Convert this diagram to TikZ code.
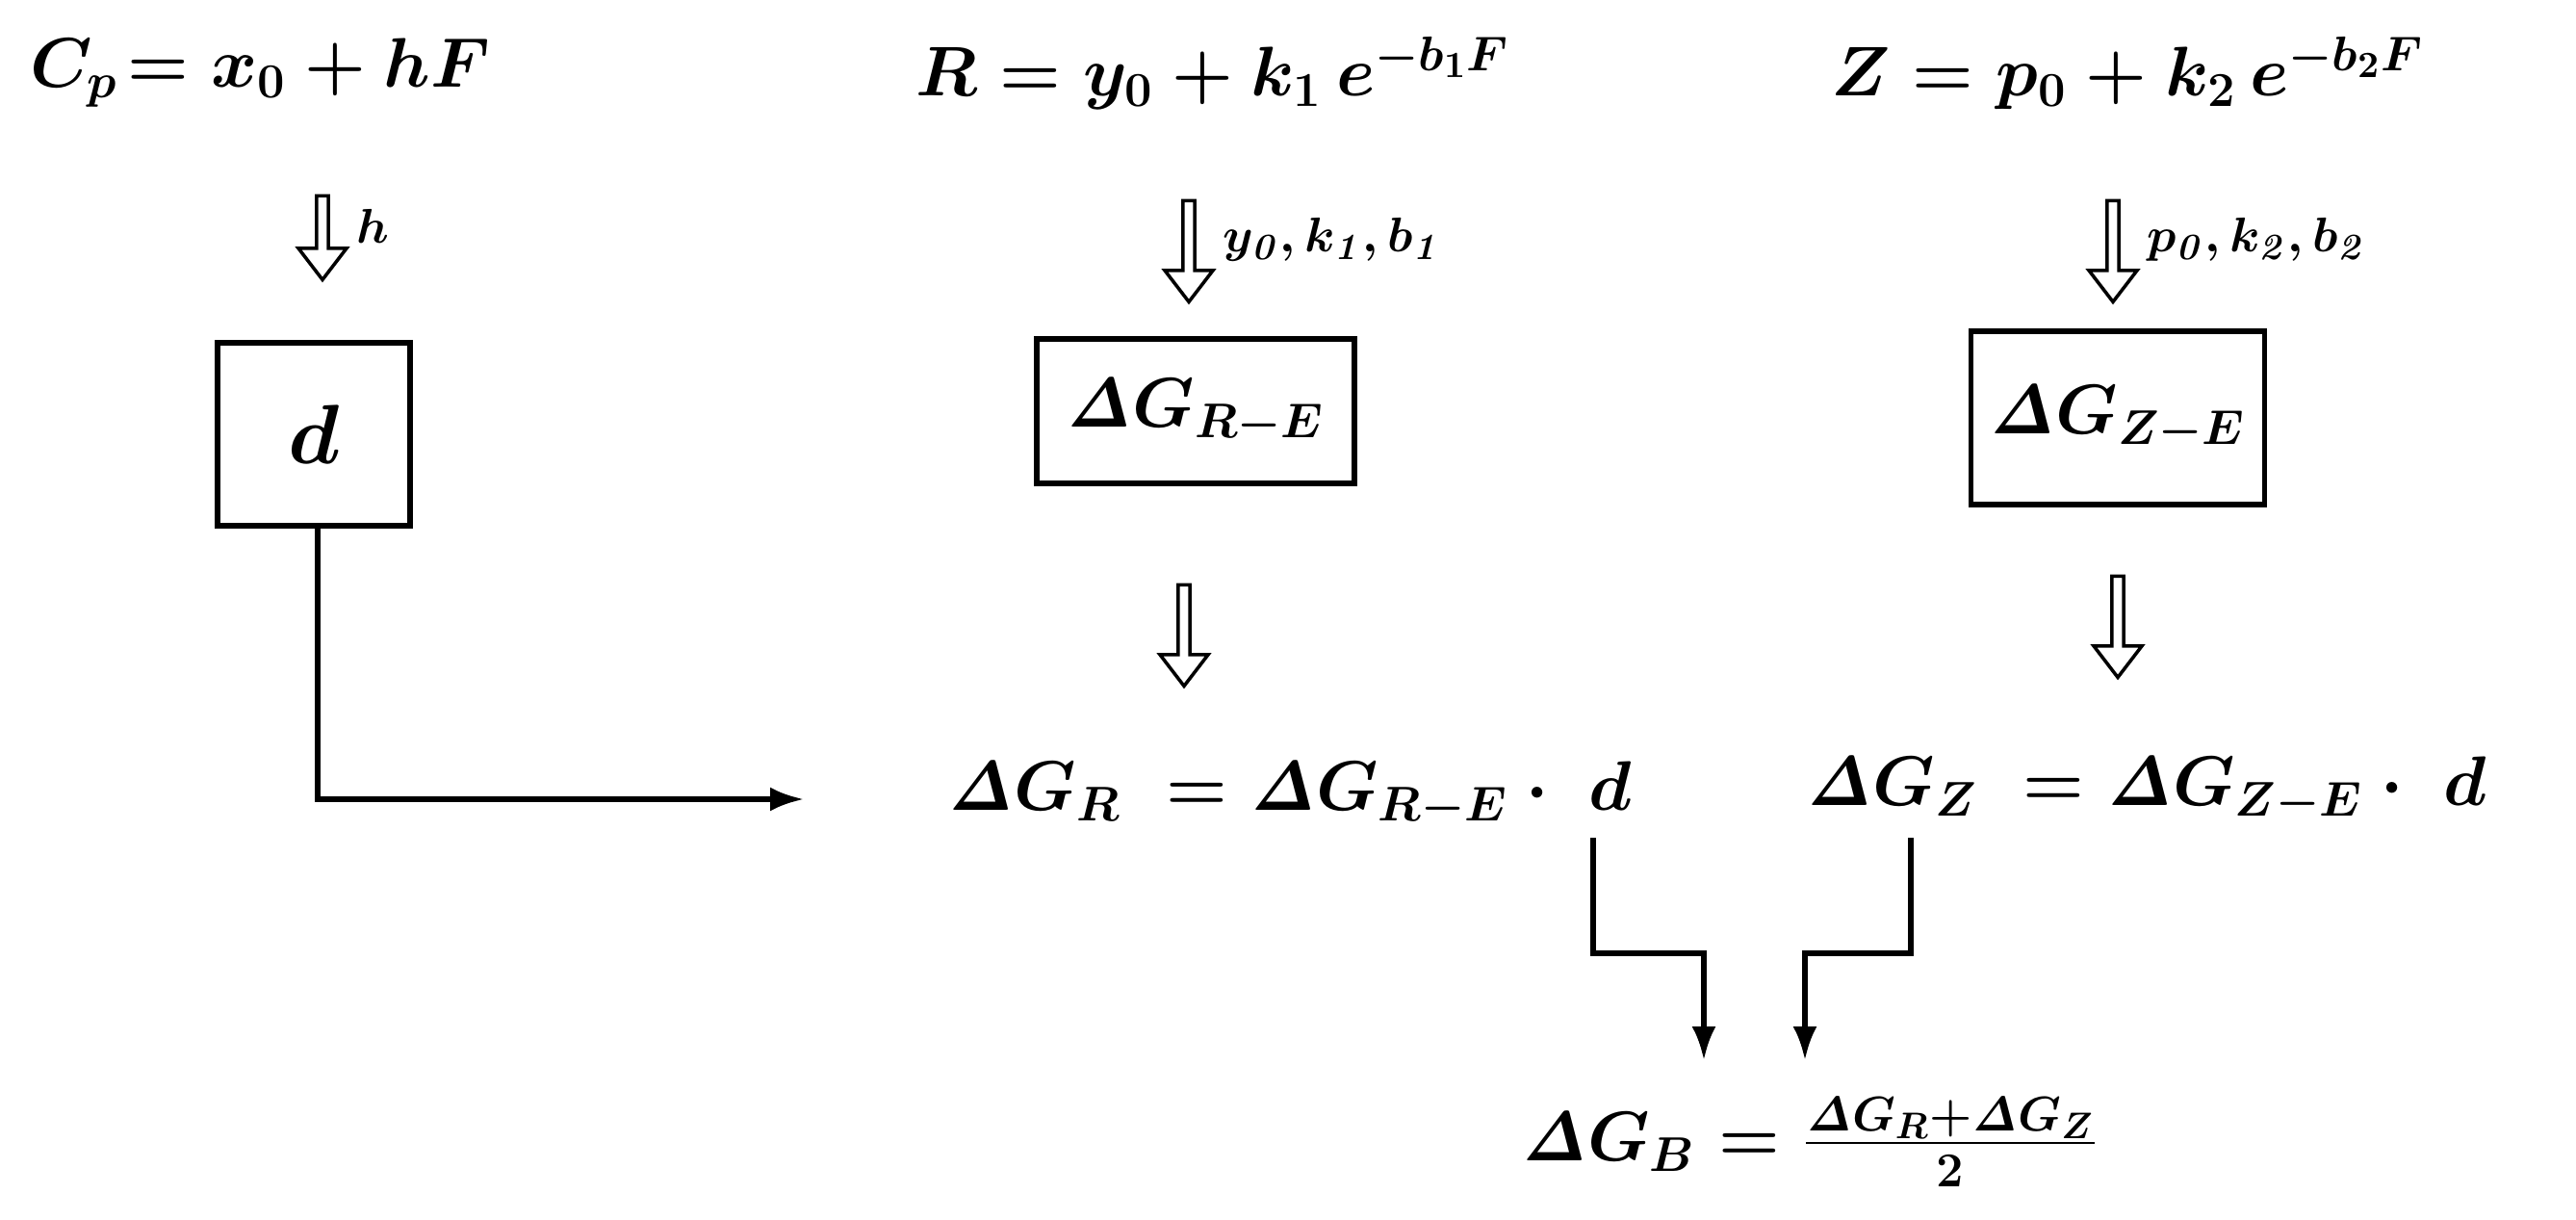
\documentclass[tikz,border=0pt]{standalone}
\usepackage{amsmath}
\usetikzlibrary{shapes.arrows,positioning,arrows.meta}
\tikzset{
  eq/.style={font=\fontsize{22}{26}\selectfont\boldmath},
  lbl/.style={font=\fontsize{15}{18}\selectfont\boldmath},
  box/.style={draw,line width=1.6pt,minimum width=3.2cm,minimum height=1.5cm,font=\fontsize{22}{26}\selectfont\boldmath},
  hollow/.style={draw,single arrow,shape border rotate=270,minimum height=1.05cm,minimum width=0.5cm,
    single arrow head extend=0.12cm,single arrow tip angle=75,inner sep=0.6pt,line width=1pt},
  conn/.style={line width=1.6pt,-{Latex[length=0.35cm,width=0.25cm]}}
}
\newcommand{\dG}{\mathit{\Delta}G}
\begin{document}
\begin{tikzpicture}
\useasboundingbox (0,0) rectangle (26.76,12.66);
% left column
\node[eq] (cp) at (2.7,11.9) {$C_p\!=x_0+hF$};
\node[hollow,minimum height=0.87cm] (a1) at (3.35,10.23) {};
\node[lbl,right=0.15cm of a1.north east] {$h$};
\node[box,minimum width=2.0cm,minimum height=1.9cm,font=\fontsize{28}{32}\selectfont\boldmath] (d) at (3.26,8.15) {$d$};
% middle column
\node[eq] (req) at (12.6,11.9) {$R=y_0+k_1\,e^{-b_1F}$};
\node[hollow] (a2) at (12.35,10.09) {};
\node[lbl,right=0.15cm of a2.north east] {$y_{\mathit0},k_{\mathit1},b_{\mathit1}$};
\node[box,minimum width=3.3cm] (gre) at (12.42,8.39) {$\dG_{R-E}$};
\node[hollow] (a3) at (12.3,6.10) {};
\node[eq] (gr) at (13.4,4.41) {$\dG_R\ =\dG_{R-E}\cdot\ d$};
% right column
\node[eq] (zeq) at (22.1,11.9) {$Z=p_0+k_2\,e^{-b_2F}$};
\node[hollow] (a4) at (21.95,10.09) {};
\node[lbl,right=0.15cm of a4.north east] {$p_{\mathit0},k_{\mathit2},b_{\mathit2}$};
\node[box,minimum width=3.05cm,minimum height=1.8cm] (gze) at (22.0,8.32) {$\dG_{Z-E}$};
\node[hollow] (a5) at (22.0,6.19) {};
\node[eq] (gz) at (22.3,4.46) {$\dG_Z\ =\dG_{Z-E}\cdot\ d$};
% bottom
\node[eq] (gb) at (18.8,0.8) {$\dG_B=\frac{\dG_R+\dG_Z}{2}$};
\coordinate (e1) at (8.35,4.36);
\coordinate (t1) at (17.7,1.65);
\coordinate (t2) at (18.75,1.65);
\draw[conn] (d.south -| 3.3,0) |- (e1);
\draw[conn] (16.55,3.96) |- (17.7,2.76) -- (t1);
\draw[conn] (19.85,3.96) |- (18.75,2.76) -- (t2);
\end{tikzpicture}
\end{document}
